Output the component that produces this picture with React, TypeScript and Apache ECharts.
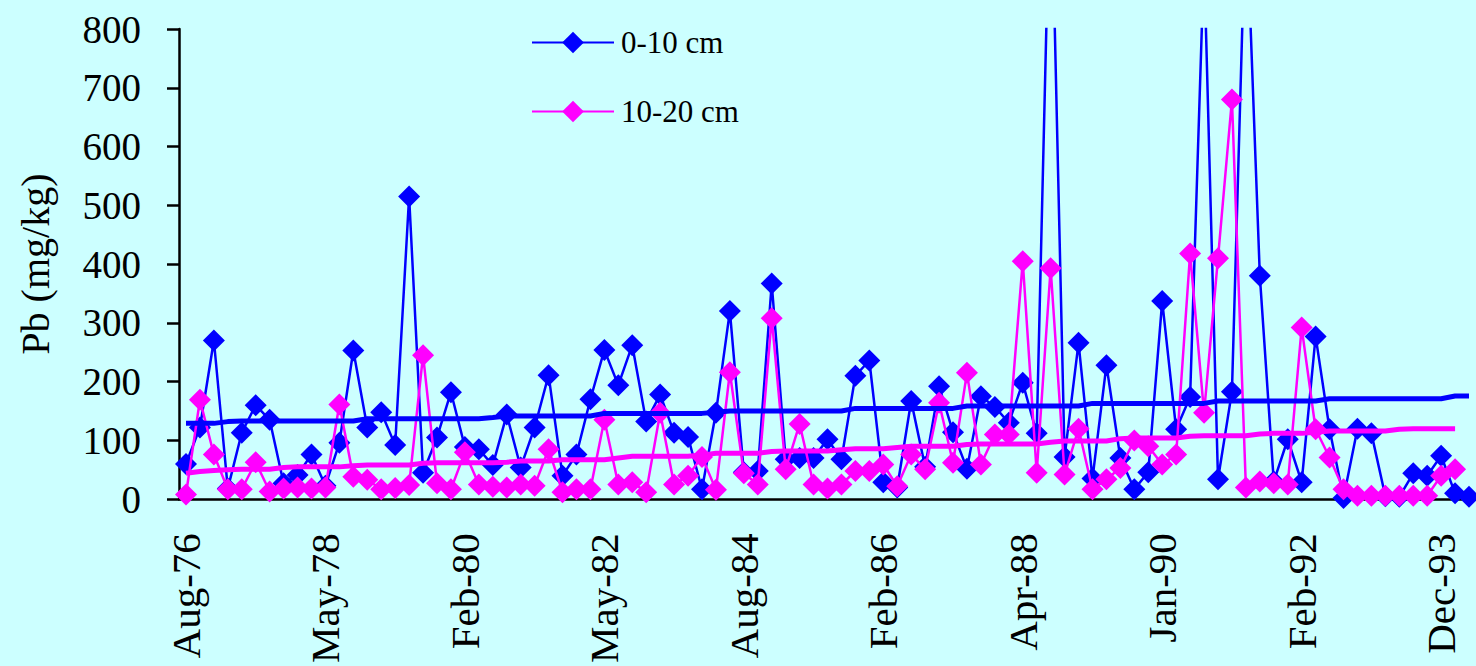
import React, { useEffect, useRef } from "react";
import * as echarts from "echarts";

// Tick labels shown every 10th sample on the category axis
const TICK_LABELS = ["Aug-76", "May-78", "Feb-80", "May-82", "Aug-84", "Feb-86", "Apr-88", "Jan-90", "Feb-92", "Dec-93"];

// Sample numbers (categories)
const SAMPLES = Array.from({ length: 93 }, (_, i) => `S${i + 1}`);

// Pb (mg/kg), 0-10 cm
const DEPTH_0_10 = [
  60, 122, 270, 18, 113, 160, 135, 27, 41, 76,
  23, 96, 253, 122, 148, 92, 515, 45, 105, 182,
  89, 85, 58, 144, 54, 122, 211, 40, 76, 170,
  254, 194, 262, 132, 178, 113, 106, 17, 147, 320,
  46, 48, 367, 68, 70, 70, 102, 68, 210, 236,
  29, 20, 167, 55, 192, 114, 52, 175, 157, 130,
  198, 112, 1110, 72, 266, 35, 228, 70, 17, 46,
  337, 119, 174, 920, 34, 183, 1020, 380, 30, 102,
  29, 277, 119, 2, 120, 112, 5, 4, 44, 40,
  74, 10, 4,
];

// Pb (mg/kg), 10-20 cm
const DEPTH_10_20 = [
  8, 169, 76, 17, 17, 63, 13, 18, 20, 18,
  20, 161, 38, 33, 17, 19, 24, 245, 27, 17,
  80, 25, 21, 20, 25, 23, 85, 12, 17, 17,
  135, 25, 29, 12, 147, 25, 40, 72, 16, 216,
  44, 25, 308, 51, 128, 25, 18, 25, 48, 48,
  59, 22, 76, 51, 164, 62, 215, 59, 110, 110,
  405, 45, 393, 42, 120, 17, 34, 53, 100, 90,
  59, 76, 418, 147, 410, 680, 20, 30, 27, 25,
  292, 119, 71, 17, 6, 6, 6, 6, 6, 6,
  40, 51,
];

// Trend lines
const TREND_0_10 = [
  129, 129, 129, 132, 133, 133, 133, 133, 133, 133,
  133, 133, 133, 137, 137, 137, 137, 137, 137, 137,
  137, 137, 139, 141.5, 141.5, 141.5, 141.5, 141.5, 141.5, 141.5,
  146, 146, 146, 146, 146, 146, 146, 146, 148, 150,
  150, 150, 150, 150, 150, 150, 150, 150, 154.5, 154.5,
  154.5, 154.5, 154.5, 154.5, 154.5, 154.5, 158.5, 158.5, 158.5, 158.5,
  158.5, 158.5, 158.5, 158.5, 158.5, 163, 163, 163, 163, 163,
  163, 163, 163, 163, 167, 167, 167, 167, 167, 167,
  167, 167, 171, 171, 171, 171, 171, 171, 171, 171,
  171, 175.5, 175.5,
];

const TREND_10_20 = [
  44, 47, 49, 50, 51, 51, 51, 54, 55, 55,
  55, 55, 57, 58, 58, 58, 58, 61, 62, 62,
  62, 62, 62, 63, 65, 65, 65, 67, 67, 67,
  67, 70, 73, 73, 73, 73, 73, 75, 78, 78,
  78, 78, 81, 82, 82, 82, 82, 84, 86, 86,
  86, 88, 90, 90, 90, 90, 93, 94, 94, 94,
  94, 94, 97, 99, 99, 99, 99, 103, 104, 104,
  104, 104, 107, 108, 108, 108, 108, 111, 112, 112,
  112, 114, 116, 116, 116, 116, 116, 119, 120, 120,
  120, 120,
];

const BLUE = "#0000FF";
const MAGENTA = "#FF00FF";
const FONT = '"Liberation Serif", "Times New Roman", Times, serif';

export default function App() {
  const ref = useRef<HTMLDivElement>(null);

  useEffect(() => {
    if (!ref.current) return;
    const chart = echarts.init(ref.current, undefined, { renderer: "svg" });
    const axisLineStyle = { color: "#000", width: 2.5 };
    chart.setOption({
      animation: false,
      backgroundColor: "#CCFFFF",
      grid: { left: 179, top: 29, width: 1304, height: 471, containLabel: false },
      legend: {
        data: ["0-10 cm", "10-20 cm"],
        orient: "vertical",
        left: 531,
        top: 27,
        padding: 0,
        itemWidth: 82,
        itemHeight: 27,
        itemGap: 38,
        textStyle: { fontFamily: FONT, fontSize: 31, color: "#000", padding: [0, 0, 0, 2] },
      },
      xAxis: {
        type: "category",
        data: SAMPLES,
        boundaryGap: true,
        axisLine: { lineStyle: axisLineStyle },
        axisTick: { interval: 9, length: 12, lineStyle: axisLineStyle },
        axisLabel: {
          interval: 9,
          rotate: 90,
          margin: 34,
          fontFamily: FONT,
          fontSize: 41,
          color: "#000",
          formatter: (_v: string, i: number) => TICK_LABELS[i / 10] ?? "",
        },
        splitLine: { show: false },
      },
      yAxis: {
        type: "value",
        min: 0,
        max: 800,
        interval: 100,
        name: "Pb (mg/kg)",
        nameLocation: "middle",
        nameRotate: 90,
        nameGap: 124,
        nameTextStyle: { fontFamily: FONT, fontSize: 40, color: "#000" },
        axisLine: { show: true, lineStyle: axisLineStyle },
        axisTick: { show: true, length: 12, lineStyle: axisLineStyle },
        axisLabel: { margin: 38, fontFamily: FONT, fontSize: 39, color: "#000" },
        splitLine: { show: false },
      },
      series: [
        {
          name: "0-10 cm",
          type: "line",
          data: DEPTH_0_10,
          symbol: "diamond",
          symbolSize: 22,
          showAllSymbol: true,
          lineStyle: { color: BLUE, width: 2.5 },
          itemStyle: { color: BLUE },
          z: 2,
        },
        {
          name: "10-20 cm",
          type: "line",
          data: DEPTH_10_20,
          symbol: "diamond",
          symbolSize: 22,
          showAllSymbol: true,
          lineStyle: { color: MAGENTA, width: 2.5 },
          itemStyle: { color: MAGENTA },
          z: 3,
        },
        {
          name: "trend 0-10 cm",
          type: "line",
          data: TREND_0_10,
          symbol: "none",
          lineStyle: { color: BLUE, width: 5 },
          itemStyle: { color: BLUE },
          z: 4,
        },
        {
          name: "trend 10-20 cm",
          type: "line",
          data: TREND_10_20,
          symbol: "none",
          lineStyle: { color: MAGENTA, width: 5 },
          itemStyle: { color: MAGENTA },
          z: 5,
        },
      ],
    });
    return () => chart.dispose();
  }, []);

  return (
    <div
      ref={ref}
      style={{ position: "fixed", left: 0, top: 0, width: 1476, height: 666 }}
    />
  );
}
